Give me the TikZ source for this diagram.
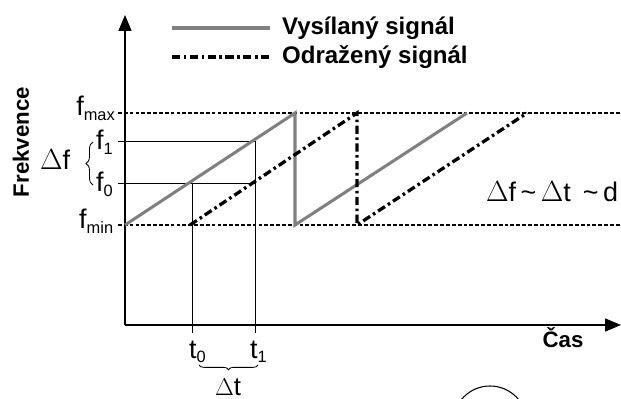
\documentclass[tikz,border=0pt]{standalone}
\usepackage{fontspec}
\setmainfont{Liberation Sans}
\usetikzlibrary{arrows.meta,decorations.pathreplacing}

\definecolor{SentGrey}{RGB}{128,128,128}

\newcommand{\lbl}[2]{#1\raisebox{-0.35ex}{\fontsize{14}{16}\selectfont #2}}

\begin{document}
\begin{tikzpicture}[x=0.03cm, y=-0.03cm,
    axis/.style={line width=1.2pt, -{Triangle[length=13.5pt,width=11pt]}},
    level/.style={line width=0.9pt, dash pattern=on 3.2pt off 1.8pt},
    guide/.style={line width=0.7pt},
    sent/.style={line width=2.6pt, color=SentGrey},
    echo/.style={line width=2.8pt, dash pattern=on 7pt off 3pt on 2.2pt off 3pt},
    legtext/.style={font=\fontsize{20.5}{22}\selectfont\bfseries, anchor=west},
    flabel/.style={font=\fontsize{23}{26}\selectfont},
    bracebig/.style={decorate, decoration={brace, amplitude=#1}, line width=0.7pt}]
\useasboundingbox (0,0) rectangle (621,399);
\clip (0,0) rectangle (621,399);

% axes
\coordinate (o) at (125,325);
\coordinate (ytip) at (125,15);
\coordinate (xtip) at (621,325);
\draw[axis] (o) -- (ytip);
\draw[axis] (o) -- (xtip);

% frequency limits
\coordinate (fmaxL) at (118,113);
\coordinate (fmaxR) at (621,113);
\coordinate (fminL) at (118,225);
\coordinate (fminR) at (621,225);
\draw[level] (fmaxL) -- (fmaxR);
\draw[level] (fminL) -- (fminR);

% guides for f0, f1, t0, t1
\coordinate (f1L) at (118,141);
\coordinate (f1R) at (255,141);
\coordinate (f0L) at (118,183);
\coordinate (f0R) at (255,183);
\coordinate (t0T) at (192,183);
\coordinate (t0B) at (192,333);
\coordinate (t1B) at (255,333);
\draw[guide] (f1L) -- (f1R) -- (t1B);
\draw[guide] (f0L) -- (f0R);
\draw[guide] (t0T) -- (t0B);

% sent signal
\coordinate (s1) at (125,225);
\coordinate (s2) at (295,113);
\coordinate (s3) at (295,225);
\coordinate (s4) at (467,113);
\draw[sent] (s1) -- (s2) -- (s3) -- (s4);

% reflected signal
\coordinate (r1) at (190,225);
\coordinate (r2) at (357,113);
\coordinate (r3) at (357,225);
\coordinate (r4) at (527,113);
\draw[echo] (r1) -- (r2) -- (r3) -- (r4);

% legend
\coordinate (leg1a) at (172,28);
\coordinate (leg1b) at (270,28);
\coordinate (leg2a) at (172,57);
\coordinate (leg2b) at (270,57);
\draw[sent] (leg1a) -- (leg1b);
\draw[echo] (leg2a) -- (leg2b);
\node[legtext] (legsent) at (278,28) {Vysílaný signál};
\node[legtext] (legecho) at (278,57) {Odražený signál};

% axis titles
\node[font=\fontsize{19}{21}\selectfont\bfseries, rotate=90] (ylab) at (21,142) {Frekvence};
\node[font=\fontsize{19}{21}\selectfont\bfseries] (xlab) at (563,338) {Čas};

% frequency labels
\node[flabel, anchor=base east, inner sep=0pt] (fmax) at (115,116) {\lbl{f}{max}};
\node[flabel, anchor=base west, inner sep=0pt] (f1) at (96,150) {\lbl{f}{1}};
\node[flabel, anchor=base west, inner sep=0pt] (f0) at (96,192) {\lbl{f}{0}};
\node[flabel, anchor=base west, inner sep=0pt] (fmin) at (79,229) {\lbl{f}{min}};
\node[flabel, anchor=base west, inner sep=0pt] (df) at (40,170) {$\Delta$f};
\coordinate (brL) at (93,185);
\coordinate (brU) at (93,142);
\draw[bracebig=6pt] (brL) -- (brU);

% time labels
\node[flabel, anchor=base west, inner sep=0pt] (t0) at (189,358) {\lbl{t}{0}};
\node[flabel, anchor=base west, inner sep=0pt] (t1) at (250,358) {\lbl{t}{1}};
\coordinate (btR) at (258,365);
\coordinate (btL) at (199,365);
\draw[bracebig=4pt] (btR) -- (btL);
\node[font=\fontsize{22}{24}\selectfont, anchor=base, inner sep=0pt] (dt) at (228,395) {$\Delta$t};

% relation
\node[font=\fontsize{23}{26}\selectfont, anchor=base west, inner sep=0pt] (rel) at (486,202) {$\Delta$f\,{\char`\~}\,$\Delta$t\, {\char`\~}\,d};

% lens at the bottom
\node[draw, circle, line width=0.9pt, minimum size=2.22cm] (lens) at (490,423) {};
\end{tikzpicture}
\end{document}
